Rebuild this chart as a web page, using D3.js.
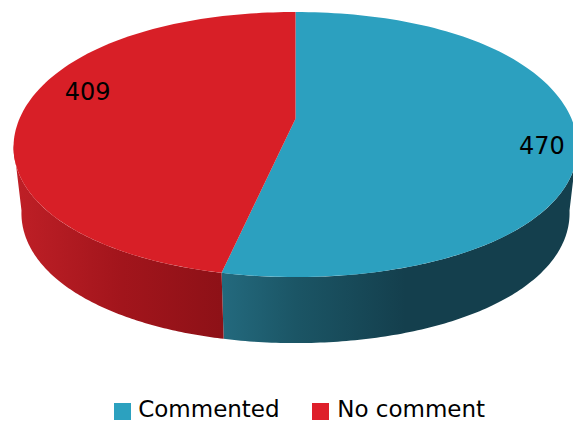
<!DOCTYPE html>
<html>
<head>
<meta charset="utf-8">
<script src="https://d3js.org/d3.v7.min.js"></script>
<style>
  html, body { margin: 0; padding: 0; background: #fff; overflow: hidden; }
  text { font-family: "DejaVu Sans", sans-serif; font-size: 23px; fill: #000; }
  .value { font-size: 24px; }
</style>
</head>
<body>
<div id="chart"></div>
<script>
const categories = ["Commented", "No comment"];
const counts = [470, 409];
const topColors = ["#2ca0bf", "#d81f27"];
const swatchColors = ["#2ca1bf", "#de1f2a"];

const width = 573, height = 421;
const svg = d3.select("#chart").append("svg")
  .attr("width", width)
  .attr("height", height);

// perspective settings for the tilted disc
const cx = 295.5, apexY = 118.7, radiusX = 276, radiusY = 127.5, tilt = 0.195;
const depth = 66, baseScale = 0.972, bulge = 0.012;

const project = (angle, r = 1) => {
  // the original rim is a little fuller than a true ellipse on the diagonals
  const s = r * (1 + bulge * Math.sin(2 * angle) ** 2);
  const u = s * Math.sin(angle), v = -s * Math.cos(angle);
  const w = 1 - tilt * v;
  return [cx + radiusX * u / w, apexY + radiusY * v / w];
};
const projectBase = (angle) => {
  const [x, y] = project(angle);
  return [cx + (x - cx) * baseScale, y + depth];
};

const samples = (a, b) => d3.range(0, 121).map(i => a + (b - a) * i / 120);
const line = d3.line();

const arcs = d3.pie().value(d => d).sort(null)(counts);

// where the near rim turns away from the viewer
const rimRight = 101.2 * Math.PI / 180, rimLeft = 258.8 * Math.PI / 180;

// side wall shading
const defs = svg.append("defs");
const addGradient = (id, stops, x1, x2) => {
  const g = defs.append("linearGradient")
    .attr("id", id)
    .attr("gradientUnits", "userSpaceOnUse")
    .attr("x1", x1).attr("x2", x2).attr("y1", 0).attr("y2", 0);
  stops.forEach(([o, c]) => g.append("stop").attr("offset", o).attr("stop-color", c));
};
addGradient("wall0", [[0, "#23697d"], [0.4, "#1b5565"], [1, "#143f4d"]], 224, 405);
addGradient("wall1", [[0, "#be1f26"], [0.5, "#a2151c"], [1, "#8d1117"]], 18, 224);

const wallRanges = [
  [rimRight, arcs[0].endAngle],
  [arcs[1].startAngle, rimLeft]
];

const walls = svg.append("g");
wallRanges.forEach(([a, b], i) => {
  const ts = samples(a, b);
  walls.append("path")
    .attr("d", line(ts.map(t => project(t)).concat(ts.slice().reverse().map(projectBase))) + "Z")
    .attr("fill", `url(#wall${i})`);
});

// top face
const faces = svg.append("g");
arcs.forEach((d, i) => {
  const pts = [project(0, 0)].concat(samples(d.startAngle, d.endAngle).map(t => project(t)));
  faces.append("path")
    .attr("d", line(pts) + "Z")
    .attr("fill", topColors[i]);
});

// value labels
const labelRadius = [0.88, 0.805];
const labelShift = 8 * Math.PI / 180;
const labels = svg.append("g");
arcs.forEach((d, i) => {
  const [x, y] = project((d.startAngle + d.endAngle) / 2 + labelShift, labelRadius[i]);
  labels.append("text")
    .attr("class", "value")
    .attr("x", x)
    .attr("y", y + 6)
    .attr("text-anchor", "middle")
    .text(d.value);
});

// legend
const swatchX = d3.scaleOrdinal().domain(categories).range([114, 312]);
const legendTextX = d3.scaleOrdinal().domain(categories).range([138.2, 337.2]);
const legend = svg.append("g").attr("transform", "translate(0,403)");
categories.forEach((c, i) => {
  legend.append("rect")
    .attr("x", swatchX(c)).attr("y", 0)
    .attr("width", 17).attr("height", 17)
    .attr("fill", swatchColors[i]);
  legend.append("text")
    .attr("x", legendTextX(c)).attr("y", 14)
    .text(c);
});
</script>
</body>
</html>
